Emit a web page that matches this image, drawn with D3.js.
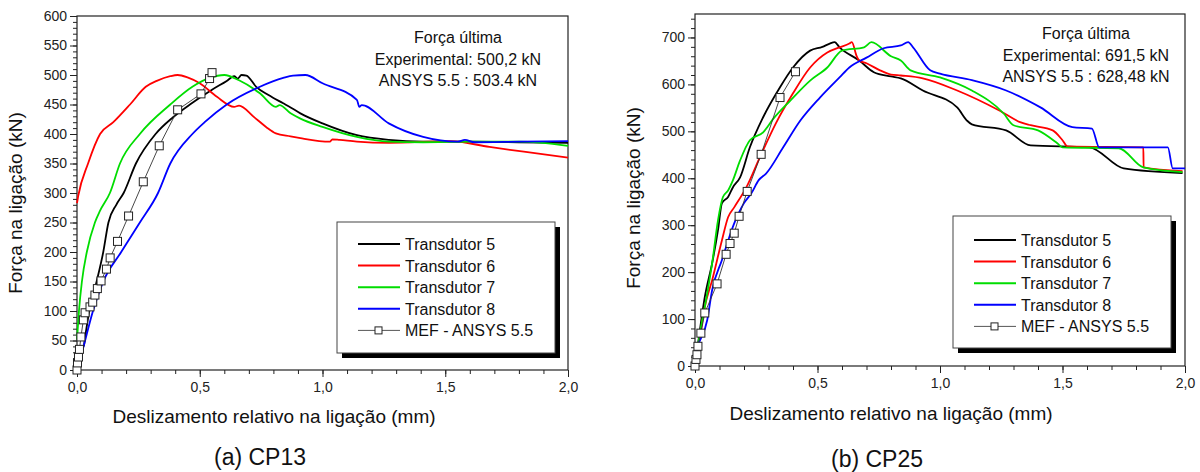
<!DOCTYPE html>
<html><head><meta charset="utf-8">
<script src="https://cdn.jsdelivr.net/npm/d3@7/dist/d3.min.js"></script>
<style>body{margin:0;background:#fff}svg{display:block;font-family:"Liberation Sans",Arial,sans-serif}</style>
</head><body><svg id="c" width="1200" height="472"></svg>
<script>
// ---------- DATA ----------
const seriesNames = ["Transdutor 5","Transdutor 6","Transdutor 7","Transdutor 8","MEF - ANSYS 5.5"];
const seriesColors = ["#000000","#ff0000","#00dd00","#0000ff","#333333"];

// CP13
const cp13_t5 = [[0.028,40],[0.033,55],[0.05,100],[0.08,150],[0.107,200],[0.128,250],[0.16,280],[0.19,300],[0.24,350],[0.32,400],[0.39,428],[0.46,450],[0.55,475],[0.61,490],[0.64,498],[0.655,494],[0.67,500],[0.69,499],[0.73,480],[0.78,466],[0.84,452],[0.87,445],[0.91,435],[1.0,418],[1.14,398],[1.27,390],[1.41,387],[1.6,387],[1.8,386],[2.0,385]];
const cp13_t6 = [[0.0,283],[0.005,295],[0.045,350],[0.094,400],[0.148,420],[0.216,450],[0.28,480],[0.325,490],[0.38,498],[0.41,500],[0.45,496],[0.5,486],[0.57,463],[0.64,446],[0.66,448],[0.72,429],[0.77,412],[0.81,401],[0.87,396],[0.91,393],[1.03,387],[1.04,391],[1.07,390],[1.14,387],[1.27,385],[1.52,388],[1.68,378],[1.82,370],[2.0,360]];
const cp13_t7 = [[0.0,52],[0.008,100],[0.02,150],[0.04,200],[0.073,250],[0.094,270],[0.134,300],[0.175,350],[0.256,400],[0.38,450],[0.47,480],[0.54,495],[0.6,500],[0.66,491],[0.745,469],[0.81,446],[0.825,449],[0.87,435],[0.91,426],[1.0,412],[1.14,395],[1.27,387],[1.41,386],[1.6,387],[1.8,387],[2.0,380]];
const cp13_t8 = [[0.02,29],[0.033,50],[0.065,100],[0.107,150],[0.18,200],[0.256,250],[0.33,300],[0.38,350],[0.47,400],[0.52,420],[0.61,450],[0.745,480],[0.84,495],[0.88,499],[0.93,500],[1.0,486],[1.14,458],[1.15,446],[1.16,449],[1.27,418],[1.41,395],[1.55,387],[1.58,390],[1.62,386],[1.8,387],[2.0,388]];
const cp13_mef = [[0,0],[0.002,12],[0.006,22],[0.01,35],[0.016,56],[0.026,85],[0.033,97],[0.053,107],[0.064,115],[0.073,127],[0.083,138],[0.098,151],[0.12,171],[0.135,190],[0.165,218],[0.21,261],[0.27,319],[0.335,380],[0.41,441],[0.505,468],[0.54,494],[0.55,504]];

// CP25
const cp25_t5 = [[0.0,0],[0.02,77],[0.04,147],[0.07,219],[0.094,290],[0.11,347],[0.135,360],[0.155,381],[0.184,402],[0.224,466],[0.278,530],[0.347,594],[0.4,636],[0.47,672],[0.52,680],[0.55,687],[0.57,690],[0.59,679],[0.67,651],[0.73,626],[0.8,617],[0.84,613],[0.93,587],[1.07,551],[1.11,523],[1.13,515],[1.27,502],[1.37,470],[1.61,466],[1.75,421],[1.99,411]];
const cp25_t6 = [[0.0,0],[0.02,62],[0.04,126],[0.07,183],[0.11,268],[0.135,317],[0.16,338],[0.21,381],[0.265,445],[0.33,517],[0.4,581],[0.47,636],[0.54,668],[0.59,679],[0.63,687],[0.64,690],[0.66,660],[0.67,651],[0.7,645],[0.755,630],[0.8,621],[0.84,619],[0.93,613],[1.07,587],[1.24,545],[1.33,519],[1.37,513],[1.46,502],[1.5,481],[1.52,468],[1.83,466],[1.831,423],[1.99,415]];
const cp25_t7 = [[0.0,0],[0.02,70],[0.04,126],[0.07,219],[0.094,311],[0.114,360],[0.135,374],[0.155,396],[0.184,438],[0.224,481],[0.278,498],[0.32,527],[0.39,566],[0.47,608],[0.54,636],[0.6,672],[0.69,679],[0.72,690],[0.8,660],[0.84,651],[0.88,630],[1.0,615],[1.13,587],[1.26,538],[1.3,513],[1.4,502],[1.48,474],[1.5,466],[1.73,464],[1.83,423],[1.99,413]];
const cp25_t8 = [[0.0,20],[0.01,40],[0.05,98],[0.07,162],[0.11,226],[0.16,304],[0.2,347],[0.23,368],[0.26,396],[0.29,410],[0.36,466],[0.43,523],[0.51,572],[0.59,615],[0.63,636],[0.7,657],[0.77,677],[0.84,683],[0.87,690],[0.89,679],[0.96,630],[1.0,623],[1.13,609],[1.27,587],[1.41,551],[1.54,509],[1.62,506],[1.65,466],[1.93,466],[1.95,421],[2.0,421]];
const cp25_mef = [[0,0],[0.004,14],[0.008,24],[0.012,42],[0.024,70],[0.04,113],[0.09,175],[0.127,238],[0.143,261],[0.16,283],[0.18,319],[0.213,372],[0.27,451],[0.347,572],[0.41,627]];

const xTickLabels = ["0,0","0,5","1,0","1,5","2,0"];
const cp13_yTicks = [0,50,100,150,200,250,300,350,400,450,500,550,600];
const cp25_yTicks = [0,100,200,300,400,500,600,700];
const cp13_notes = ["Força última","Experimental: 500,2 kN","ANSYS 5.5 :  503.4 kN"];
const cp25_notes = ["Força última","Experimental: 691,5 kN","ANSYS 5.5 : 628,48  kN"];
const xTitle = "Deslizamento relativo na ligação (mm)";
const yTitle = "Força na ligação (kN)";
const captions = ["(a) CP13","(b) CP25"];

// ---------- DRAW ----------
const svg = d3.select("#c");
const panels = [
  {x0:77,x1:568,y0:16,y1:370,ymax:600,minorY:10,yTicks:cp13_yTicks,data:[cp13_t5,cp13_t6,cp13_t7,cp13_t8,cp13_mef],notes:cp13_notes,noteX:458,noteY:43,
   leg:{x:337,y:222,w:218,h:131,row0:244},ytx:22,yty:203,cap:captions[0],capX:260,capY:465,xtX:274,xtY:423},
  {x0:695,x1:1185,y0:14,y1:366,ymax:750,minorY:20,yTicks:cp25_yTicks,data:[cp25_t5,cp25_t6,cp25_t7,cp25_t8,cp25_mef],notes:cp25_notes,noteX:1086,noteY:39,
   leg:{x:953,y:216,w:218,h:132,row0:240},ytx:640,yty:198,cap:captions[1],capX:877,capY:467,xtX:891,xtY:420}
];

panels.forEach(p=>{
  const g = svg.append("g");
  const x = d3.scaleLinear().domain([0,2]).range([p.x0,p.x1]);
  const y = d3.scaleLinear().domain([0,p.ymax]).range([p.y1,p.y0]);

  // minor ticks
  g.append("g").attr("transform",`translate(0,${p.y1})`)
    .call(d3.axisBottom(x).tickValues(d3.range(0,2.001,0.1)).tickSize(4).tickFormat(""))
    .call(a=>a.select(".domain").remove());
  g.append("g").attr("transform",`translate(${p.x0},0)`)
    .call(d3.axisLeft(y).tickValues(d3.range(0,p.ymax+0.1,p.minorY)).tickSize(4).tickFormat(""))
    .call(a=>a.select(".domain").remove());
  // major axes
  const xa = g.append("g").attr("transform",`translate(0,${p.y1})`)
    .call(d3.axisBottom(x).tickValues([0,0.5,1,1.5,2]).tickSize(7).tickPadding(5).tickFormat((d,i)=>xTickLabels[i]));
  const ya = g.append("g").attr("transform",`translate(${p.x0},0)`)
    .call(d3.axisLeft(y).tickValues(p.yTicks).tickSize(7).tickPadding(3));
  [xa,ya].forEach(a=>{a.selectAll("text").attr("font-size",14).attr("fill","#222").attr("font-family","Liberation Sans, Arial, sans-serif");
    a.select(".domain").remove();});
  g.selectAll(".tick line").attr("stroke","#222");
  // frame
  g.append("rect").attr("x",p.x0).attr("y",p.y0).attr("width",p.x1-p.x0).attr("height",p.y1-p.y0)
    .attr("fill","none").attr("stroke","#222").attr("stroke-width",1.2);

  const line = d3.line().x(d=>x(d[0])).y(d=>y(d[1])).curve(d3.curveMonotoneX);
  p.data.forEach((s,i)=>{
    if(i===4) return;
    g.append("path").datum(s).attr("d",line).attr("fill","none").attr("stroke",seriesColors[i]).attr("stroke-width",1.8).attr("stroke-linejoin","round");
  });
  // MEF
  const mef = p.data[4];
  const mline = d3.line().x(d=>x(d[0])).y(d=>y(d[1]));
  g.append("path").datum(mef).attr("d",mline).attr("fill","none").attr("stroke","#333").attr("stroke-width",0.9);
  g.selectAll("rect.m").data(mef).join("rect").attr("class","m")
    .attr("x",d=>x(d[0])-4).attr("y",d=>y(d[1])-4).attr("width",8).attr("height",8)
    .attr("fill","#fff").attr("stroke","#222").attr("stroke-width",1);

  // notes
  p.notes.forEach((t,i)=>g.append("text").attr("x",p.noteX).attr("y",p.noteY+i*21.5).attr("text-anchor","middle")
    .attr("font-size",16).attr("fill","#111").text(t));

  // legend
  const L=p.leg;
  g.append("rect").attr("x",L.x+5).attr("y",L.y+5).attr("width",L.w).attr("height",L.h).attr("fill","#000");
  g.append("rect").attr("x",L.x).attr("y",L.y).attr("width",L.w).attr("height",L.h).attr("fill","#fff").attr("stroke","#444").attr("stroke-width",1);
  seriesNames.forEach((n,i)=>{
    const ry=L.row0+i*21.6;
    const lx=L.x+21;
    g.append("line").attr("x1",lx).attr("x2",lx+42).attr("y1",ry).attr("y2",ry)
      .attr("stroke",i===4?"#555":seriesColors[i]).attr("stroke-width",i===4?1:2);
    if(i===4) g.append("rect").attr("x",lx+17).attr("y",ry-3.5).attr("width",7).attr("height",7).attr("fill","#fff").attr("stroke","#222");
    g.append("text").attr("x",lx+47).attr("y",ry+6).attr("font-size",16).attr("fill","#111").text(n);
  });

  // titles
  g.append("text").attr("x",p.xtX).attr("y",p.xtY).attr("text-anchor","middle").attr("font-size",19).attr("fill","#111").text(xTitle);
  g.append("text").attr("transform",`translate(${p.ytx},${p.yty}) rotate(-90)`).attr("text-anchor","middle").attr("font-size",19).attr("fill","#111").text(yTitle);
  g.append("text").attr("x",p.capX).attr("y",p.capY).attr("text-anchor","middle").attr("font-size",23).attr("fill","#111").text(p.cap);
});
</script></body></html>
